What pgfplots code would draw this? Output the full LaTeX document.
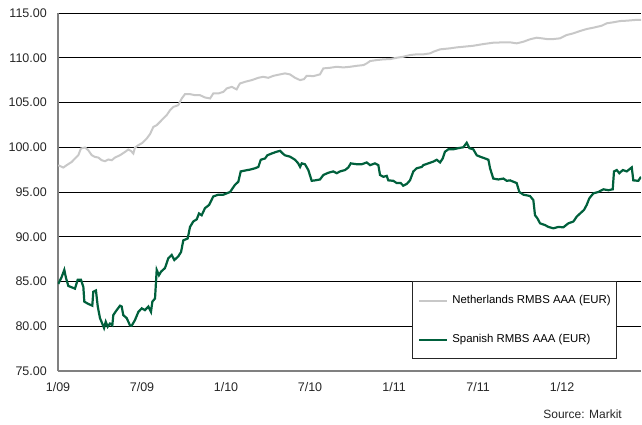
\documentclass[border=0pt]{standalone}
\usepackage{fontspec}
\setmainfont{Liberation Sans}
\usepackage{pgfplots}
\pgfplotsset{compat=1.18}
\definecolor{nlgray}{HTML}{C8C8C8}
\definecolor{esgreen}{HTML}{00603C}
\definecolor{axgray}{HTML}{808080}

% x = months since 1/09
\pgfplotstableread{
m v
0.02 97.99
0.38 97.73
0.62 98.00
0.98 98.36
1.21 98.74
1.45 99.11
1.64 99.86
1.93 99.97
2.16 99.67
2.41 99.11
2.64 98.92
2.88 98.85
3.12 98.55
3.36 98.44
3.59 98.63
3.84 98.55
4.07 98.85
4.43 99.11
4.79 99.48
5.02 99.75
5.21 99.59
5.38 99.30
5.50 99.97
5.74 100.23
6.02 100.48
6.34 100.98
6.57 101.46
6.81 102.27
7.05 102.47
7.29 102.84
7.52 103.22
7.76 103.58
8.00 104.14
8.24 104.51
8.59 104.70
8.84 105.45
9.07 105.93
9.43 105.93
9.79 105.82
10.14 105.82
10.50 105.56
10.86 105.45
11.09 106.01
11.45 106.01
11.81 106.19
12.05 106.57
12.41 106.75
12.76 106.46
12.88 106.83
13.00 107.13
13.36 107.31
13.84 107.50
14.31 107.76
14.66 107.87
15.02 107.76
15.38 107.98
15.86 108.14
16.21 108.25
16.57 108.14
16.93 107.76
17.29 107.50
17.57 107.61
17.76 107.98
18.24 107.95
18.71 108.14
18.95 108.81
19.43 108.88
19.91 108.99
20.38 108.92
20.86 108.99
21.34 109.10
21.81 109.18
22.05 109.37
22.29 109.63
22.76 109.74
23.24 109.82
23.71 109.85
24.19 110.00
24.66 110.11
25.14 110.30
25.62 110.38
26.09 110.38
26.57 110.49
26.81 110.67
27.29 110.94
28.00 111.05
28.48 111.16
28.95 111.23
29.66 111.34
30.38 111.53
31.09 111.68
31.81 111.72
32.29 111.72
32.76 111.61
33.24 111.79
33.71 112.06
34.19 112.24
34.55 112.17
34.91 112.09
35.38 112.09
35.86 112.17
36.33 112.54
36.81 112.73
37.29 112.99
37.76 113.21
38.24 113.36
38.84 113.58
39.19 113.85
39.66 113.96
40.14 114.10
40.62 114.14
41.21 114.22
41.64 114.22
}\netherlands

\pgfplotstableread{
m v
0.02 84.72
0.26 85.50
0.45 86.30
0.57 85.40
0.74 84.50
0.98 84.35
1.21 84.20
1.41 85.20
1.64 85.20
1.81 84.40
1.88 82.75
2.16 82.50
2.45 82.30
2.52 83.85
2.71 84.00
2.84 82.20
3.00 80.90
3.16 80.30
3.29 79.80
3.41 80.50
3.55 79.95
3.71 80.30
3.88 80.10
3.95 81.25
4.19 81.80
4.43 82.30
4.55 82.20
4.66 81.25
4.91 80.90
5.14 80.10
5.26 80.05
5.50 80.70
5.74 81.60
5.98 82.00
6.21 81.80
6.45 82.20
6.64 81.60
6.74 82.75
6.93 83.10
7.05 86.30
7.21 85.70
7.36 86.10
7.64 86.50
7.88 87.60
8.12 87.96
8.31 87.40
8.59 87.80
8.79 88.30
8.95 89.60
9.26 89.80
9.43 91.10
9.66 91.70
9.91 91.95
10.07 92.60
10.26 92.40
10.50 93.20
10.79 93.55
11.09 94.50
11.45 94.70
11.81 94.70
12.05 94.85
12.29 95.00
12.64 95.80
12.88 96.15
13.05 97.30
13.36 97.40
13.71 97.50
14.07 97.65
14.31 97.80
14.48 98.60
14.79 98.75
14.95 99.10
15.26 99.30
15.62 99.50
15.86 99.60
16.05 99.30
16.21 99.10
16.57 98.95
16.93 98.60
17.16 98.20
17.29 97.80
17.41 98.20
17.64 98.10
17.88 97.45
18.12 96.25
18.36 96.30
18.71 96.40
18.95 96.90
19.31 97.15
19.66 97.30
19.91 97.10
20.14 97.30
20.50 97.45
20.74 97.75
20.91 98.20
21.34 98.10
21.69 98.10
22.05 98.30
22.29 98.00
22.64 98.20
22.88 98.00
23.00 96.90
23.24 96.70
23.48 96.80
23.59 96.30
23.95 96.25
24.19 96.00
24.48 96.00
24.66 95.70
24.91 95.90
25.14 96.30
25.38 97.30
25.62 97.65
25.98 97.80
26.09 98.00
26.45 98.20
26.81 98.40
27.05 98.60
27.29 98.30
27.48 98.75
27.64 99.50
27.88 99.77
28.24 99.77
28.59 99.90
28.95 100.00
29.19 100.50
29.38 99.90
29.66 99.77
29.91 99.10
30.14 98.95
30.50 98.75
30.74 98.60
30.86 97.65
31.09 96.50
31.45 96.40
31.81 96.50
32.05 96.25
32.29 96.30
32.52 96.15
32.76 96.00
32.95 95.00
33.24 94.70
33.71 94.55
33.95 94.10
34.07 92.40
34.24 92.06
34.43 91.50
34.79 91.30
35.02 91.10
35.38 90.94
35.74 91.10
36.09 91.05
36.45 91.50
36.81 91.70
37.05 92.25
37.29 92.60
37.57 93.00
37.76 93.55
37.95 94.30
38.24 94.85
38.59 95.00
38.95 95.30
39.31 95.20
39.62 95.30
39.71 97.30
39.91 97.45
40.09 97.10
40.34 97.45
40.62 97.30
40.98 97.75
41.09 96.30
41.45 96.25
41.64 96.70
}\spain

\begin{document}
\begin{tikzpicture}
\begin{axis}[
    scale only axis,
    width=583pt, height=358pt,
    xmin=0, xmax=41.64,
    ymin=75, ymax=115,
    xtick={0,6,12,18,24,30,36},
    xticklabels={1/09,7/09,1/10,7/10,1/11,7/11,1/12},
    ytick={75,80,...,115},
    major tick length=0pt,
    tick label style={font=\fontsize{12.5}{14}\selectfont, text=black!85},
    yticklabel style={anchor=east, inner sep=0pt, xshift=-11pt,
        /pgf/number format/fixed, /pgf/number format/fixed zerofill,
        /pgf/number format/precision=2, /pgf/number format/assume math mode=true},
    xticklabel style={anchor=base, inner sep=0pt, yshift=-20.5pt},
    axis x line*=bottom, axis y line*=left,
    axis line style={-, draw=axgray, line width=1.5pt},
    ymajorgrids=true,
    grid style={black, line width=0.9pt},
    legend cell align=left,
    legend style={at={(0.6067,0.2506)}, anchor=north west,
        draw=black!85, line width=0.8pt, fill=white,
        inner xsep=6pt, inner ysep=13pt,
        /tikz/row sep=27pt,
        /tikz/every odd column/.append style={column sep=4pt},
        nodes={inner sep=0pt, text height=9pt, text depth=3pt},
        font=\fontsize{11.4}{14}\selectfont},
    legend image code/.code={\draw[#1] (0pt,0pt) -- (28pt,0pt);},
]
\addplot[nlgray, line width=2pt] table[x=m, y=v] {\netherlands};
\addlegendentry{Netherlands RMBS AAA (EUR)}
\addplot[esgreen, line width=2.2pt] table[x=m, y=v] {\spain};
\addlegendentry{Spanish RMBS AAA (EUR)}
\end{axis}
\node[anchor=base east, inner sep=0pt, font=\fontsize{12}{14}\selectfont, text=black!85] at (564pt,-47.3pt) {Source: Markit};
\path (-58pt,-54pt) rectangle (584pt,371pt);
\end{tikzpicture}
\end{document}
